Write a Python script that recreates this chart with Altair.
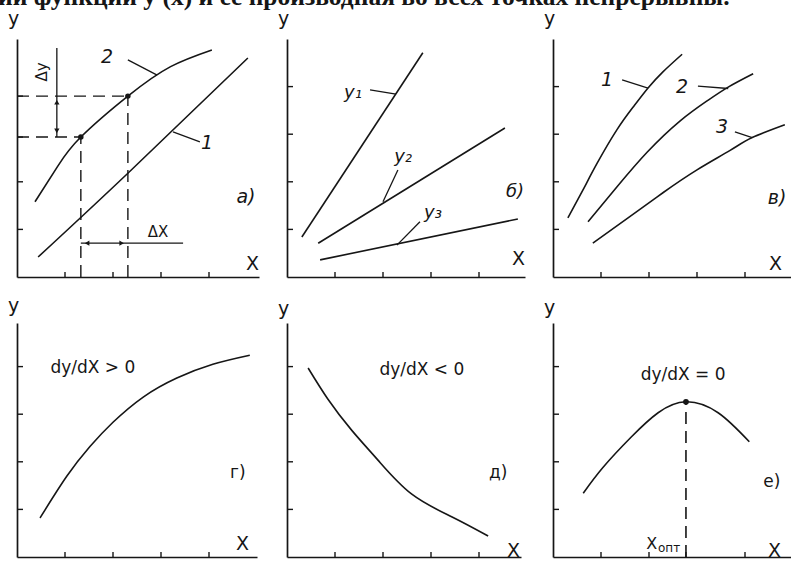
import altair as alt
import pandas as pd

FONT = "DejaVu Sans"
INK = "#161616"
PX_X = 48.0   # pixels per x unit
PX_Y = 47.6   # pixels per y unit

HEADER = "ии функции  y (x)  и ее производная во всех точках непрерывны."

# ---------- а) two functions, increments Δx and Δy
a_c2_x = [0.375, 0.85, 1.33, 2.31, 3.20, 4.06]
a_c2_y = [1.58, 2.33, 2.94, 3.80, 4.42, 4.77]
a_c1_x = [0.44, 2.31, 4.81]
a_c1_y = [0.42, 2.18, 4.60]
a_pts_x = [1.33, 2.31]
a_pts_y = [2.94, 3.80]
a_dy_x = 0.83
a_dy_top = 4.81
a_dx_y = 0.71
a_dx_end = 3.46
a_lab = ["2", "1", "а)"]
a_lab_x = [1.875, 3.96, 4.77]
a_lab_y = [4.62, 2.82, 1.68]
a_lead_x = [2.31, 3.25]
a_lead_y = [4.56, 3.05]
a_lead_x2 = [2.92, 3.81]
a_lead_y2 = [4.24, 2.84]

# ---------- б) straight lines with different slopes
b_names = ["y₁", "y₂", "y₃"]
b_x0 = [0.31, 0.65, 0.69]
b_y0 = [0.84, 0.71, 0.36]
b_x1 = [2.83, 4.54, 4.81]
b_y1 = [4.71, 3.13, 1.22]
b_lab_x = [1.375, 2.42, 3.04, 4.75]
b_lab_y = [3.87, 2.52, 1.34, 1.79]
b_lead_x = [1.73, 2.31, 2.77]
b_lead_y = [3.93, 2.25, 1.16]
b_lead_x2 = [2.27, 2.00, 2.29]
b_lead_y2 = [3.84, 1.58, 0.67]

# ---------- в) three convex-up curves
c1_x = [0.31, 0.625, 0.92, 1.33, 1.67, 1.98, 2.29, 2.69]
c1_y = [1.24, 1.83, 2.39, 3.09, 3.57, 3.97, 4.31, 4.68]
c2_x = [0.73, 1.33, 1.96, 2.65, 3.21, 3.65, 4.17]
c2_y = [1.16, 1.89, 2.62, 3.28, 3.70, 3.99, 4.27]
c3_x = [0.83, 1.60, 2.29, 3.00, 3.69, 4.15, 4.83]
c3_y = [0.71, 1.27, 1.77, 2.25, 2.66, 2.93, 3.20]
c_lab = ["1", "2", "3", "в)"]
c_lab_x = [1.125, 2.69, 3.52, 4.67]
c_lab_y = [4.14, 3.99, 3.15, 1.66]
c_lead_x = [1.44, 3.02, 3.79]
c_lead_y = [4.14, 4.01, 3.05]
c_lead_x2 = [1.98, 3.65, 4.15]
c_lead_y2 = [3.97, 3.96, 2.93]

# ---------- г) increasing function
d_x = [0.48, 1.04, 1.52, 2.00, 2.63, 3.33, 4.08, 4.85]
d_y = [0.82, 1.70, 2.32, 2.83, 3.36, 3.76, 4.05, 4.24]
d_lab = ["dy/dX > 0", "г)"]
d_lab_x = [1.58, 4.60]
d_lab_y = [3.97, 1.76]

# ---------- д) decreasing function
e_x = [0.44, 0.85, 1.35, 1.90, 2.60, 3.44, 4.19]
e_y = [3.97, 3.32, 2.66, 2.03, 1.32, 0.84, 0.44]
e_lab = ["dy/dX < 0", "д)"]
e_lab_x = [2.81, 4.40]
e_lab_y = [3.93, 1.76]

# ---------- е) function with a maximum (x measured from its own axis)
f_x = [0.63, 1.04, 1.63, 2.19, 2.77, 3.44, 4.09]
f_y = [1.34, 1.88, 2.52, 3.03, 3.26, 3.03, 2.42]
f_peak_x = 2.77
f_peak_y = 3.26
f_lab = ["dy/dX = 0", "е)"]
f_lab_x = [2.71, 4.56]
f_lab_y = [3.82, 1.58]

TICKS = [1, 2, 3, 4]


def panel(w, h, x_ticks, y_ticks, title_x, title_y, y_title_y, build):
    xs = alt.Scale(domain=[0, w / PX_X], nice=False, zero=False)
    ys = alt.Scale(domain=[0, h / PX_Y], nice=False, zero=False)
    common = dict(labels=False, ticks=False, grid=False, domainColor=INK, domainWidth=1.7,
                  titleAngle=0, titleAlign="center", titleBaseline="middle", titleFont=FONT,
                  titleFontSize=19, titleFontWeight="normal", titleColor=INK)
    ax = alt.Axis(title="X", titleX=title_x, titleY=title_y, **common)
    ay = alt.Axis(title="y", titleX=-4, titleY=y_title_y, **common)

    def X(f):
        return alt.X(f, type="quantitative", scale=xs, axis=ax)

    def Y(f):
        return alt.Y(f, type="quantitative", scale=ys, axis=ay)

    tx = alt.Chart(pd.DataFrame({"t": x_ticks})).mark_rule(color=INK, strokeWidth=1.4).encode(
        x=X("t"), y=alt.value(h), y2=alt.value(h - 5))
    ty = alt.Chart(pd.DataFrame({"t": y_ticks})).mark_rule(color=INK, strokeWidth=1.4).encode(
        y=Y("t"), x=alt.value(0), x2=alt.value(6))
    return alt.layer(tx, ty, *build(X, Y)).properties(width=w, height=h)


def curve(X, Y, xs, ys, width=1.6):
    return alt.Chart(pd.DataFrame({"x": xs, "y": ys})).mark_line(
        color=INK, strokeWidth=width, interpolate="natural").encode(x=X("x"), y=Y("y"))


def segments(X, Y, x, y, x2, y2, dash=None, width=1.3):
    kw = dict(color=INK, strokeWidth=width)
    if dash:
        kw["strokeDash"] = dash
    return alt.Chart(pd.DataFrame({"x": x, "y": y, "x2": x2, "y2": y2})).mark_rule(**kw).encode(
        x=X("x"), y=Y("y"), x2=alt.X2("x2"), y2=alt.Y2("y2"))


def labels(X, Y, texts, xs, ys, size=18, **kw):
    return alt.Chart(pd.DataFrame({"x": xs, "y": ys, "s": texts})).mark_text(
        font=FONT, fontSize=size, color=INK, **kw).encode(x=X("x"), y=Y("y"), text="s:N")


def build_a(X, Y):
    xa, xb = a_pts_x
    ya, yb = a_pts_y
    header = alt.Chart(pd.DataFrame({"s": [HEADER]})).mark_text(
        align="left", baseline="alphabetic", font="Liberation Serif", fontSize=25.5,
        fontWeight="bold", color=INK).encode(x=alt.value(-19), y=alt.value(-34), text="s:N")
    dashed = segments(X, Y, [0, 0, xa, xb], [ya, yb, 0, 0], [xa, xb, xa, xb], [ya, yb, ya, yb],
                      dash=[12, 7], width=1.4)
    dy_line = segments(X, Y, [a_dy_x], [a_dy_top], [a_dy_x], [ya], width=1.3)
    dx_line = segments(X, Y, [xa], [a_dx_y], [a_dx_end], [a_dx_y], width=1.3)
    arrows = alt.Chart(pd.DataFrame({
        "x": [a_dy_x, a_dy_x, xa + 0.13, xb - 0.13],
        "y": [yb - 0.13, ya + 0.13, a_dx_y, a_dx_y],
        "shape": ["triangle-up", "triangle-down", "triangle-left", "triangle-right"],
    })).mark_point(filled=True, color=INK, size=28, opacity=1).encode(
        x=X("x"), y=Y("y"), shape=alt.Shape("shape:N", scale=None))
    dots = alt.Chart(pd.DataFrame({"x": a_pts_x, "y": a_pts_y})).mark_point(
        filled=True, color=INK, size=30, opacity=1).encode(x=X("x"), y=Y("y"))
    return [header,
            curve(X, Y, a_c2_x, a_c2_y), curve(X, Y, a_c1_x, a_c1_y),
            dashed, dy_line, dx_line, arrows, dots,
            segments(X, Y, a_lead_x, a_lead_y, a_lead_x2, a_lead_y2),
            labels(X, Y, a_lab, a_lab_x, a_lab_y, size=19, fontStyle="italic"),
            labels(X, Y, ["Δy"], [0.52], [4.31], size=15, angle=270),
            labels(X, Y, ["ΔX"], [2.94], [0.94], size=15)]


def build_b(X, Y):
    return [segments(X, Y, b_x0, b_y0, b_x1, b_y1, width=1.6),
            segments(X, Y, b_lead_x, b_lead_y, b_lead_x2, b_lead_y2),
            labels(X, Y, b_names + ["б)"], b_lab_x, b_lab_y, size=18, fontStyle="italic")]


def build_c(X, Y):
    return [curve(X, Y, c1_x, c1_y), curve(X, Y, c2_x, c2_y), curve(X, Y, c3_x, c3_y),
            segments(X, Y, c_lead_x, c_lead_y, c_lead_x2, c_lead_y2),
            labels(X, Y, c_lab, c_lab_x, c_lab_y, size=19, fontStyle="italic")]


def build_d(X, Y):
    return [curve(X, Y, d_x, d_y),
            labels(X, Y, d_lab, d_lab_x, d_lab_y, size=17)]


def build_e(X, Y):
    return [curve(X, Y, e_x, e_y),
            labels(X, Y, e_lab, e_lab_x, e_lab_y, size=17)]


def build_f(X, Y):
    dashed = segments(X, Y, [f_peak_x], [0], [f_peak_x], [f_peak_y], dash=[12, 7], width=1.6)
    dot = alt.Chart(pd.DataFrame({"x": [f_peak_x], "y": [f_peak_y]})).mark_point(
        filled=True, color=INK, size=34, opacity=1).encode(x=X("x"), y=Y("y"))
    opt = labels(X, Y, ["опт"], [f_peak_x - 0.12], [0.19], size=12, align="right")
    opt_x = labels(X, Y, ["X"], [f_peak_x - 0.12], [0.27], size=16, align="right", dx=-23)
    return [curve(X, Y, f_x, f_y), dashed, dot, opt, opt_x,
            labels(X, Y, f_lab, f_lab_x, f_lab_y, size=17)]


panels = [
    panel(242, 238, TICKS, [1, 2] + a_pts_y, 235, -14, -21, build_a),
    panel(238, 238, TICKS, TICKS, 231, -19, -21, build_b),
    panel(238, 238, TICKS, TICKS, 222, -14, -21, build_c),
    panel(240, 234, TICKS, TICKS, 225, -14, -18, build_d),
    panel(234, 234, TICKS, TICKS, 226, -7, -15, build_e),
    panel(238, 234, [1, 2, f_peak_x, 4], TICKS, 221, -7, -16, build_f),
]

chart = alt.concat(*panels, columns=3, spacing={"row": 46, "column": 28},
                   bounds="flush", align="each").properties(
    autosize=alt.AutoSizeParams(type="none"),
    padding={"left": 17, "top": 39, "right": 0, "bottom": 7},
    background="white",
).configure_view(stroke=None)

# drawing area of the fixed-size page (without padding)
chart.params = [alt.VariableParameter(name="width", value=774),
                alt.VariableParameter(name="height", value=518)]

chart.save("out.html", embed_options={"renderer": "svg", "actions": False})
